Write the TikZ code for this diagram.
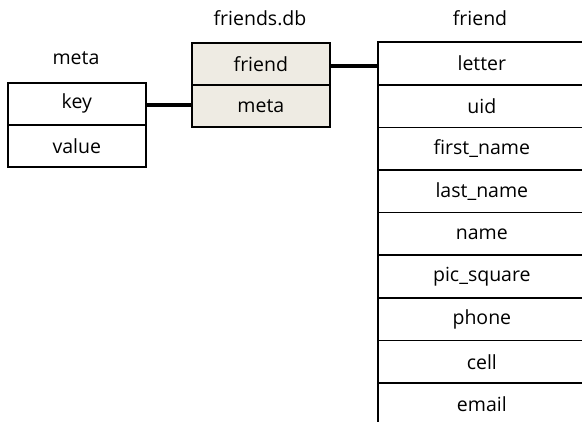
\documentclass[tikz,border=0pt]{standalone}
\usepackage{fontspec}
\setmainfont{Open Sans}
\definecolor{dbfill}{HTML}{EEEBE3}
\begin{document}
\begin{tikzpicture}[x=1pt,y=-1pt,
  cell/.style={draw=black,line width=1.7pt,minimum width=138pt,minimum height=42pt,inner sep=0pt,anchor=north west,font=\fontsize{19.5}{22}\selectfont},
  dbcell/.style={cell,fill=dbfill},
  fcell/.style={cell,minimum width=208pt,minimum height=42.6pt},
  title/.style={font=\fontsize{19.5}{22}\selectfont,inner sep=0pt},
  link/.style={line width=3.2pt}]
\useasboundingbox (0,0) rectangle (582,422);
\begin{scope}
\clip (0,0) rectangle (582,422);
% meta table
\node[title] (tmeta) at (76,58) {meta};
\node[cell] (mkey) at (7,82) {key};
\node[cell] (mval) at (7,124) {value};
% friends.db
\node[title] (tdb) at (260,18) {friends.db};
\node[dbcell] (dfriend) at (191,42) {friend};
\node[dbcell] (dmeta) at (191,84) {meta};
% friend table
\node[title] (tfriend) at (480,18) {friend};
\node[fcell] (f1) at (377,41.5) {letter};
\node[fcell] (f2) at (377,84) {uid};
\node[fcell] (f3) at (377,126.6) {first\_name};
\node[fcell] (f4) at (377,169.2) {last\_name};
\node[fcell] (f5) at (377,211.8) {name};
\node[fcell] (f6) at (377,254.4) {pic\_square};
\node[fcell] (f7) at (377,297) {phone};
\node[fcell] (f8) at (377,339.6) {cell};
\node[fcell] (f9) at (377,382.2) {email};
\end{scope}
\draw[link] (mkey.east |- 0,105) -- (dmeta.west |- 0,105);
\draw[link] (dfriend.east |- 0,66) -- (f1.west |- 0,66);
\end{tikzpicture}
\end{document}
